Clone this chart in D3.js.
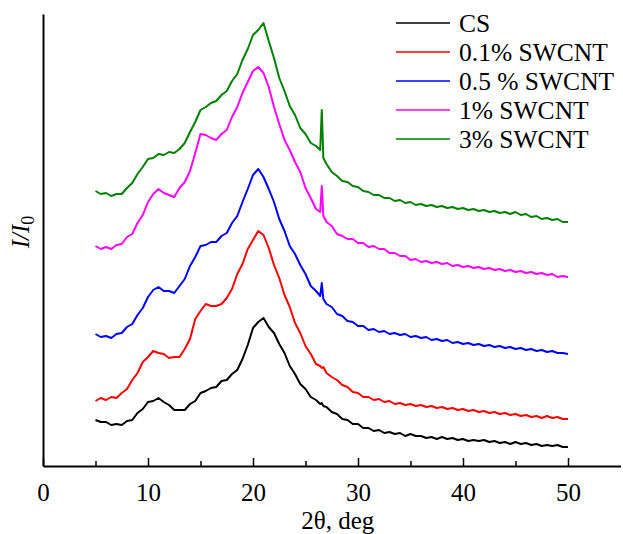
<!DOCTYPE html>
<html>
<head>
<meta charset="utf-8">
<script src="https://cdn.jsdelivr.net/npm/d3@7"></script>
<style>
  html, body { margin: 0; padding: 0; background: #fff; }
  svg { display: block; }
  text { font-family: "Liberation Serif", "Times New Roman", serif; fill: #000; }
</style>
</head>
<body>
<svg id="chart" width="623" height="534"></svg>
<script>
// Scan angles (2θ, deg)
const twoTheta = [
  5, 5.5, 6, 6.5, 7, 7.5, 8, 8.5, 9, 9.5,
  10, 10.5, 11, 11.5, 12, 12.5, 13, 13.5, 14, 14.5,
  15, 15.5, 16, 16.5, 17, 17.5, 18, 18.5, 19, 19.5,
  20, 20.5, 21, 21.5, 22, 22.5, 23, 23.5, 24, 24.5,
  25, 25.5, 26, 26.4, 26.55, 26.7, 27, 27.5, 28, 28.5,
  29, 29.5, 30, 30.5, 31, 31.5, 32, 32.5, 33, 33.5,
  34, 34.5, 35, 35.5, 36, 36.5, 37, 37.5, 38, 38.5,
  39, 39.5, 40, 40.5, 41, 41.5, 42, 42.5, 43, 43.5,
  44, 44.5, 45, 45.5, 46, 46.5, 47, 47.5, 48, 48.5,
  49, 49.5, 50
];

// Relative intensity, curves stacked with vertical offsets (a.u.)
const intCS = [
  46, 44, 44, 41, 42, 41, 45, 46, 53, 57,
  64, 65, 68, 64, 61, 56, 56, 56, 62, 65,
  73, 75, 78, 79, 85, 86, 92, 96, 107, 121,
  138, 144, 148, 139, 133, 122, 113, 100, 92, 82,
  77, 69, 66, 62, 63, 60, 59, 54, 52, 47,
  46, 42, 42, 38, 38, 35, 36, 33, 34, 32,
  33, 30, 32, 30, 30, 28, 29, 27, 29, 27,
  28, 26, 27, 25, 26, 25, 26, 24, 25, 23,
  24, 22, 24, 22, 23, 21, 22, 20, 21, 20,
  21, 19, 19
];
const int01 = [
  65, 68, 66, 69, 68, 73, 77, 86, 93, 104,
  109, 115, 113, 112, 108, 109, 109, 117, 127, 147,
  155, 162, 160, 160, 162, 168, 177, 192, 202, 217,
  226, 235, 231, 218, 201, 188, 171, 159, 143, 133,
  120, 112, 102, 100, 98, 99, 93, 89, 86, 81,
  79, 74, 73, 69, 69, 66, 67, 64, 65, 62,
  63, 61, 62, 60, 61, 59, 60, 58, 59, 57,
  58, 56, 57, 55, 56, 54, 55, 53, 54, 52,
  53, 51, 52, 50, 51, 49, 50, 48, 50, 48,
  49, 47, 47
];
const int05 = [
  132, 129, 130, 128, 132, 133, 139, 142, 151, 158,
  169, 176, 179, 175, 175, 173, 180, 187, 200, 209,
  220, 221, 224, 224, 230, 233, 243, 250, 264, 277,
  291, 297, 289, 277, 264, 247, 235, 220, 212, 201,
  192, 180, 175, 170, 183, 167, 162, 159, 152, 150,
  145, 144, 140, 140, 136, 137, 134, 135, 132, 133,
  131, 132, 129, 130, 128, 129, 126, 127, 125, 126,
  123, 124, 122, 123, 121, 122, 120, 121, 119, 120,
  118, 119, 117, 118, 116, 117, 115, 116, 114, 115,
  113, 113, 112
];
const int1 = [
  220, 217, 219, 217, 221, 222, 229, 232, 243, 251,
  264, 272, 277, 273, 271, 269, 278, 284, 295, 313,
  332, 331, 328, 326, 332, 336, 349, 359, 373, 384,
  395, 399, 393, 379, 359, 342, 326, 316, 304, 294,
  278, 268, 257, 254, 280, 250, 244, 240, 232, 230,
  227, 227, 223, 223, 219, 220, 217, 217, 213, 213,
  210, 210, 206, 207, 204, 205, 203, 204, 202, 203,
  200, 201, 199, 200, 198, 199, 197, 198, 196, 197,
  195, 196, 194, 195, 193, 194, 192, 193, 191, 192,
  189, 190, 189
];
const int3 = [
  275, 272, 273, 270, 272, 272, 278, 283, 292, 299,
  307, 308, 312, 311, 314, 313, 317, 323, 334, 344,
  356, 359, 363, 365, 371, 375, 385, 392, 406, 417,
  431, 436, 443, 425, 408, 388, 375, 360, 351, 338,
  332, 323, 320, 316, 356, 308, 302, 294, 290, 285,
  284, 280, 279, 275, 274, 271, 271, 268, 268, 265,
  266, 263, 264, 261, 262, 260, 261, 259, 260, 258,
  259, 257, 258, 256, 257, 255, 256, 254, 255, 253,
  254, 252, 254, 251, 252, 249, 250, 247, 248, 246,
  247, 244, 244
];

const seriesNames = ["CS", "0.1% SWCNT", "0.5 % SWCNT", "1% SWCNT", "3% SWCNT"];
const seriesColors = ["#000000", "#ff0000", "#0000ff", "#ff00ff", "#008000"];
const seriesValues = [intCS, int01, int05, int1, int3];

const xMajorTicks = [0, 10, 20, 30, 40, 50];
const xMinorTicks = [5, 15, 25, 35, 45];

const svg = d3.select("#chart");
const plot = { left: 43, right: 620.5, top: 14, bottom: 466 };

const x = d3.scaleLinear().domain([0, 55]).range([plot.left, plot.right]);
const y = d3.scaleLinear().domain([0, 452]).range([plot.bottom, plot.top]);

// Curves
const line = d3.line()
  .x((d, i) => x(twoTheta[i]))
  .y(d => y(d));

svg.append("g")
  .selectAll("path")
  .data(seriesValues)
  .join("path")
  .attr("fill", "none")
  .attr("stroke", (d, i) => seriesColors[i])
  .attr("stroke-width", 2)
  .attr("stroke-linejoin", "round")
  .attr("d", line);

// X axis: major ticks with labels, minor ticks without, all pointing inward
const xAxis = svg.append("g").attr("transform", `translate(0,${plot.bottom})`);
xAxis.call(d3.axisBottom(x).tickValues(xMajorTicks).tickSizeInner(-8).tickSizeOuter(0).tickPadding(17).tickFormat(d3.format("d")));
xAxis.select(".domain").attr("stroke-width", 2);
xAxis.selectAll(".tick line").attr("stroke-width", 1.5);
xAxis.selectAll(".tick text")
  .attr("font-family", "'Liberation Serif', 'Times New Roman', serif")
  .attr("font-size", 25);

const xMinor = svg.append("g").attr("transform", `translate(0,${plot.bottom})`);
xMinor.call(d3.axisBottom(x).tickValues(xMinorTicks).tickSizeInner(-5).tickSizeOuter(0).tickFormat(""));
xMinor.select(".domain").remove();
xMinor.selectAll(".tick line").attr("stroke-width", 1.5);

// Y axis: spine only
const yAxis = svg.append("g").attr("transform", `translate(${plot.left},0)`);
yAxis.call(d3.axisLeft(y).tickValues([]).tickSizeOuter(0));
yAxis.select(".domain").attr("stroke-width", 2);

// Axis titles
svg.append("text")
  .attr("x", (plot.left + x(55)) / 2 + 6)
  .attr("y", 529)
  .attr("text-anchor", "middle")
  .attr("font-size", 25)
  .text("2θ, deg");

const yt = svg.append("text")
  .attr("transform", "translate(29,232) rotate(-90)")
  .attr("text-anchor", "middle")
  .attr("font-size", 25);
yt.append("tspan").attr("font-style", "italic").text("I/I");
yt.append("tspan").attr("font-size", 18).attr("dy", 5).text("0");

// Legend
const legend = svg.append("g").attr("transform", "translate(396,23)");
const rows = legend.selectAll("g")
  .data(seriesNames)
  .join("g")
  .attr("transform", (d, i) => `translate(0,${i * 29})`);
rows.append("line")
  .attr("x1", 0).attr("x2", 54)
  .attr("y1", 0).attr("y2", 0)
  .attr("stroke", (d, i) => seriesColors[i])
  .attr("stroke-width", 1.6);
rows.append("text")
  .attr("x", 63)
  .attr("y", 8.5)
  .attr("font-size", 25.5)
  .text(d => d);
</script>
</body>
</html>
